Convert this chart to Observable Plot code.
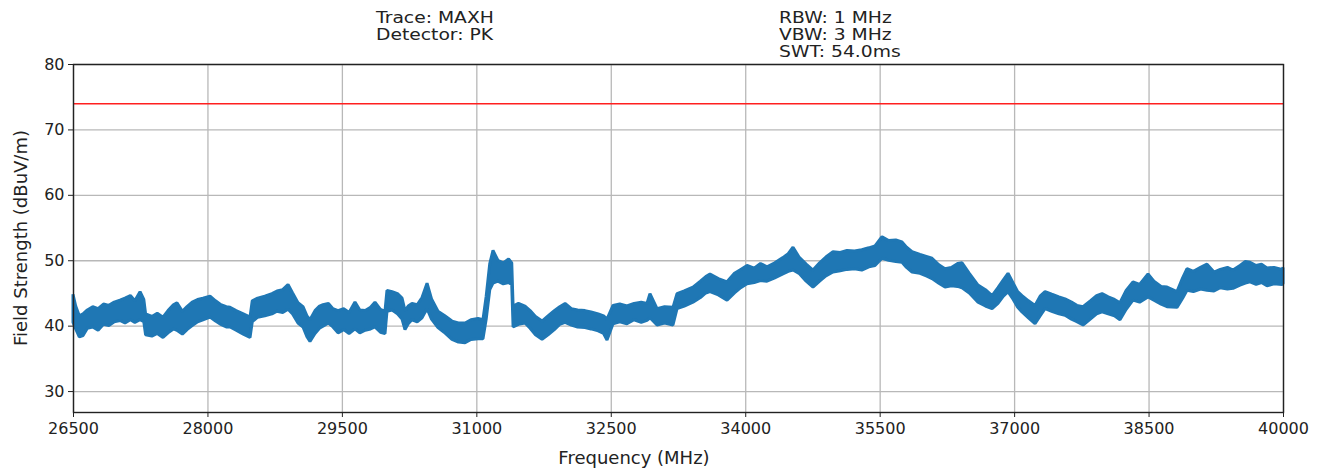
<!DOCTYPE html>
<html>
<head>
<meta charset="utf-8">
<script src="https://cdn.jsdelivr.net/npm/d3@7"></script>
<script src="https://cdn.jsdelivr.net/npm/@observablehq/plot@0.6"></script>
<style>
  body { margin: 0; background: #fff; }
  #wrap { position: relative; width: 1326px; height: 470px; font-family: "DejaVu Sans", sans-serif; color: #222; }
  #chart { position: absolute; left: 0; top: 0; }
  .hdr { position: absolute; font-size: 16px; line-height: 17px; white-space: pre; z-index: 2; transform: scaleX(1.17); transform-origin: 0 0; }
  .lbl { position: absolute; font-size: 18px; white-space: nowrap; z-index: 2; }
</style>
</head>
<body>
<div id="wrap">
  <div id="chart"></div>
  <div class="hdr" style="left:376px;top:9px">Trace: MAXH
Detector: PK</div>
  <div class="hdr" style="left:779px;top:9px">RBW: 1 MHz
VBW: 3 MHz
SWT: 54.0ms</div>
  <div class="lbl" id="xlab" style="left:634px;top:447px;transform:translateX(-50%)">Frequency (MHz)</div>
  <div class="lbl" id="ylab" style="left:20px;top:238px;transform:translate(-50%,-50%) rotate(-90deg)">Field Strength (dBuV/m)</div>
</div>
<script>
// ---- data ----
const freqs = [
  26500,26530,26570,26612,26660,26720,26780,26840,26900,26960,27024,27080,27140,27190,27248,27290,27310,27380,27440,27504,
  27560,27620,27660,27720,27772,27830,27890,27950,28029,28090,28150,28210,28252,28320,28400,28475,28500,28560,28640,28720,
  28776,28840,28899,28950,29010,29066,29110,29144,29200,29250,29289,
  29350,29400,29457,29520,29580,29646,29700,29760,29820,29869,29930,29981,30003,30060,30120,30171,30204,30240,30282,30340,
  30394,30450,30500,30572,30640,30728,30800,30874,30940,31019,31074,31110,31150,31186,31240,31300,31360,31395,31410,31470,
  31543,31600,31660,31733,31800,31870,31930,31990,32060,32130,32212,
  32280,32360,32420,32458,32525,32600,32680,32760,32840,32904,32937,33016,33100,33194,33239,33320,33417,33500,33560,33607,
  33700,33797,33880,33950,34020,34100,34170,34243,34330,34420,34480,34533,34600,34680,34756,34830,34900,34979,35060,35135,
  35220,35300,35380,35448,35526,35600,35680,35749,35800,35861,35950,36020,36084,36160,36229,36300,36370,36419,36500,36597,
  36680,36754,36820,36880,36932,36990,37040,37088,37160,37233,37290,37345,37420,37500,37568,37640,37700,37769,37850,37920,
  37981,38050,38120,38181,38250,38326,38400,38494,38560,38640,38706,38817,38880,38929,39000,39080,39152,39230,39300,39380,
  39442,39520,39580,39632,39700,39760,39821,39900,39989,40000
];
const lows = [
  40.5,39.5,38.3,38.5,39.6,39.8,39.3,40.2,40.0,40.6,40.8,40.4,40.9,40.5,40.9,40.6,38.6,38.4,38.8,38.2,
  38.9,39.5,39.3,38.7,39.4,40.0,40.6,40.9,41.3,40.7,40.2,39.8,39.8,39.3,38.7,38.2,40.6,41.3,41.5,41.8,
  42.2,42.0,42.5,41.8,40.4,39.8,38.3,37.6,38.8,39.6,39.9,
  40.4,39.8,38.9,39.4,38.8,39.5,38.9,39.3,39.5,39.8,39.0,38.8,42.2,42.4,41.8,41.0,39.4,40.3,40.9,40.6,
  41.2,42.6,41.0,39.7,39.0,37.9,37.5,37.4,37.9,38.0,38.0,41.0,45.5,46.5,46.8,46.4,46.6,46.3,39.8,40.2,
  40.4,39.6,38.6,37.9,38.6,39.4,40.2,40.5,40.1,39.8,39.7,
  39.5,39.2,38.8,37.8,40.3,40.6,40.3,40.9,40.5,40.8,41.2,40.1,40.4,40.1,42.6,43.0,43.6,44.3,45.0,45.2,
  44.7,43.9,45.0,45.8,46.4,46.6,46.9,46.8,47.3,47.9,48.3,48.5,48.0,46.8,45.9,46.8,47.6,48.2,48.4,48.6,
  48.7,48.5,49.0,49.2,50.3,50.0,49.8,49.7,48.9,48.2,48.0,47.6,47.2,46.5,45.9,46.1,46.0,45.8,45.0,43.6,
  43.0,42.6,43.4,44.5,45.2,44.0,42.8,42.1,41.2,40.3,41.5,42.6,42.2,41.8,41.6,41.0,40.6,40.1,41.0,41.8,
  42.1,41.8,41.5,40.9,42.5,43.9,43.6,44.4,43.9,43.3,42.9,42.8,44.2,45.4,45.2,45.6,45.4,45.3,45.8,45.6,
  45.7,46.2,46.5,46.7,46.3,46.6,46.1,46.4,46.3,46.4
];
const highs = [
  44.8,43.0,41.5,41.8,42.4,42.9,42.6,43.3,43.1,43.6,43.9,44.2,44.6,43.8,45.2,44.0,41.8,41.4,41.9,41.3,
  42.3,43.2,43.5,42.2,42.9,43.6,44.0,44.2,44.5,43.8,43.2,42.9,42.8,42.3,41.8,41.3,43.8,44.2,44.5,44.9,
  45.3,45.5,46.3,45.0,43.5,42.9,41.5,40.9,42.3,43.0,43.2,
  43.4,42.6,42.3,42.6,42.0,43.6,42.4,42.3,42.8,43.6,42.5,42.2,45.4,45.2,44.9,44.2,42.3,43.0,43.4,43.2,
  44.3,46.5,44.1,42.2,41.6,40.7,40.4,40.4,40.9,41.1,40.9,44.5,49.5,51.5,50.0,49.6,50.2,49.6,43.0,43.4,
  43.0,42.3,41.4,40.7,41.5,42.3,42.9,43.4,42.6,42.4,42.3,
  42.1,41.8,41.5,41.0,43.1,43.3,43.0,43.4,43.6,43.4,44.9,42.6,42.9,42.8,44.9,45.3,45.9,46.8,47.5,47.9,
  47.2,46.7,48.0,48.6,49.2,48.8,49.5,49.0,49.6,50.4,51.0,52.0,50.5,49.4,48.5,49.6,50.5,51.3,51.2,51.5,
  51.4,51.6,51.9,52.2,53.6,53.0,53.1,52.8,52.0,51.3,50.9,50.6,50.3,49.3,48.7,48.9,49.5,49.6,48.0,46.2,
  45.5,44.6,45.8,47.0,48.0,46.5,45.2,44.6,43.8,43.1,44.5,45.2,44.8,44.4,44.1,43.6,43.1,42.9,43.8,44.6,
  44.9,44.4,44.0,43.5,45.4,46.7,46.3,47.9,46.8,46.0,45.9,45.2,47.3,48.7,48.3,48.9,49.4,48.2,48.6,48.9,
  48.5,49.2,49.8,49.7,49.2,49.4,48.8,48.9,48.6,48.9
];
const limitLine = [74];
const xTicks = [26500, 28000, 29500, 31000, 32500, 34000, 35500, 37000, 38500, 40000];
const yTicks = [30, 40, 50, 60, 70, 80];

const data = freqs.map((f, i) => ({f, lo: lows[i], hi: highs[i]}));

const chart = Plot.plot({
  width: 1326,
  height: 470,
  marginLeft: 73,
  marginRight: 43,
  marginTop: 64,
  marginBottom: 58,
  style: {fontFamily: "DejaVu Sans, sans-serif", fontSize: "16px", color: "#222", background: "transparent"},
  x: {domain: [26500, 40000]},
  y: {domain: [26.8, 80]},
  marks: [
    Plot.gridX(xTicks, {stroke: "#b8b8b8", strokeOpacity: 1, strokeWidth: 1.3}),
    Plot.gridY(yTicks, {stroke: "#b8b8b8", strokeOpacity: 1, strokeWidth: 1.3}),
    Plot.ruleY(limitLine, {stroke: "#ff1f1f", strokeWidth: 1.6}),
    Plot.areaY(data, {x: "f", y1: "lo", y2: "hi", fill: "#1f77b4", stroke: "#1f77b4", strokeWidth: 3, strokeLinejoin: "miter", curve: "linear"}),
    Plot.frame({stroke: "#222", strokeWidth: 1.4}),
    Plot.axisX(xTicks, {tickFormat: d => String(d), tickSize: 5, tickPadding: 5, label: null, fontSize: 16}),
    Plot.axisY(yTicks, {tickFormat: d => String(d), tickSize: 5, tickPadding: 4, label: null, fontSize: 16})
  ]
});
document.getElementById("chart").appendChild(chart);
</script>
</body>
</html>
